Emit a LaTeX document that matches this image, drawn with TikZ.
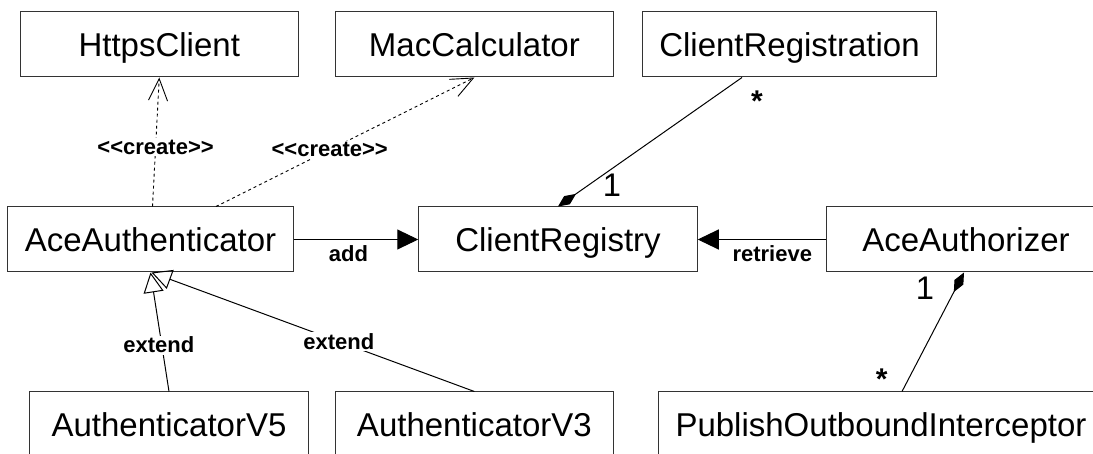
\documentclass[tikz,border=0pt]{standalone}
\usepackage{fontspec}
\setmainfont{Liberation Sans}
\usetikzlibrary{positioning,arrows.meta}
\tikzset{
  classbox/.style={draw=black!80, line width=1pt, minimum width=278.5pt, minimum height=65pt,
    inner xsep=17pt, inner ysep=0pt, text height=23.4pt, text depth=0pt,
    font=\fontsize{33}{36}\selectfont},
  create/.style={draw=black, line width=0.9pt, dash pattern=on 3pt off 3pt,
    -{Straight Barb[length=22pt,width=19pt]}},
  assoc/.style={draw=black, line width=1pt, -{Triangle[length=21pt,width=20pt]}},
  extendto/.style={draw=black, line width=1pt, -{Triangle[open,length=20pt,width=20pt]}},
  comp/.style={draw=black, line width=1pt, {Diamond[length=22pt,width=10pt]}-},
  lbl/.style={font=\fontsize{22}{24}\selectfont\bfseries, inner sep=1.5pt, fill=white},
  one/.style={font=\fontsize{32.7}{36}\selectfont, anchor=base, inner sep=0pt},
  many/.style={font=\fontsize{30}{32}\selectfont\bfseries, anchor=base, inner sep=0pt}
}
\begin{document}
\begin{tikzpicture}[x=1pt, y=-1pt]
  \useasboundingbox (0,0) rectangle (1093,454);

  % top row
  \node[classbox] (https) at (159.25,44.5) {HttpsClient};
  \node[classbox] (mac)   at (474.4,44.5)  {MacCalculator};
  \node[classbox] (creg)  at (789.5,44.5)  {ClientRegistration};
  % middle row
  \node[classbox] (ace)   at (150.5,239.5) {AceAuthenticator};
  \node[classbox] (reg)   at (558,239.5)   {ClientRegistry};
  \node[classbox] (authz) at (966,239.5)   {AceAuthorizer};
  % bottom row
  \node[classbox] (v5)    at (169,424.5)   {AuthenticatorV5};
  \node[classbox] (v3)    at (474.4,424.5) {AuthenticatorV3};
  \node[classbox] (pub)   at (881,424.5)   {PublishOutboundInterceptor};

  \draw[create] ([xshift=2pt]ace.north) -- node[lbl, pos=.46] (cr1) {{<}{<}create{>}{>}} (https.south);
  \draw[create] ([xshift=65.5pt]ace.north) -- node[lbl, pos=.44] (cr2) {{<}{<}create{>}{>}} (mac.south);

  \draw[assoc] (ace.east) -- node[lbl, fill=none, pos=.44, anchor=base, yshift=-22.5pt] (add) {add} (reg.west);
  \draw[assoc] (authz.west) -- node[lbl, fill=none, pos=.42, anchor=base, yshift=-22.5pt] (ret) {retrieve} (reg.east);

  \draw[comp] (reg.north) -- ([xshift=-47.5pt]creg.south);
  \draw[comp] ([xshift=-2pt]authz.south) -- ([xshift=21pt]pub.north);
  \node[one]  (n1) at (612,197)     {1};
  \node[many] (s1) at (757,111.5)   {*};
  \node[one]  (n2) at (925,300)     {1};
  \node[many] (s2) at (881.7,389)   {*};

  \draw[extendto] (v5.north) -- node[lbl, pos=.39, xshift=-3pt] (ext1) {extend} (ace.south);
  \draw[extendto] (v3.north) -- node[lbl, pos=.42] (ext2) {extend} ([xshift=1pt]ace.south);
\end{tikzpicture}
\end{document}
